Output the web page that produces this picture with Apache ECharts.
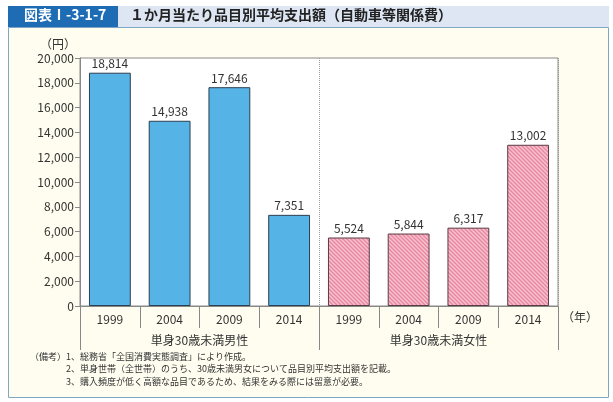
<!DOCTYPE html>
<html>
<head>
<meta charset="utf-8">
<script src="https://cdn.jsdelivr.net/npm/echarts@6/dist/echarts.min.js"></script>
<style>
html, body { margin: 0; padding: 0; background: #fff; }
#chart { width: 613px; height: 402px; }
</style>
</head>
<body>
<div id="chart"></div>
<script>
// 1か月当たり品目別平均支出額（自動車等関係費）
var years = ['1999', '2004', '2009', '2014', '1999', '2004', '2009', '2014'];
var groups = ['単身30歳未満男性', '単身30歳未満女性'];
var maleValues = [18814, 14938, 17646, 7351, null, null, null, null];
var femaleValues = [null, null, null, null, 5524, 5844, 6317, 13002];
var notes = [
	'1、総務省「全国消費実態調査」により作成。',
	'2、単身世帯（全世帯）のうち、30歳未満男女について品目別平均支出額を記載。',
	'3、購入頻度が低く高額な品目であるため、結果をみる際には留意が必要。'
];

var FONT = '"Noto Sans CJK JP", "Noto Sans", sans-serif';

function fmt(v) {
	return String(v).replace(/\B(?=(\d{3})+(?!\d))/g, ',');
}

// ピンクの斜線パターン
function hatch() {
	var c = document.createElement('canvas');
	c.width = 4;
	c.height = 4;
	var ctx = c.getContext('2d');
	ctx.fillStyle = '#f8c3d0';
	ctx.fillRect(0, 0, 4, 4);
	ctx.strokeStyle = '#e8859f';
	ctx.lineWidth = 1.4;
	ctx.beginPath();
	ctx.moveTo(-1, -1); ctx.lineTo(5, 5);
	ctx.moveTo(-1, 3); ctx.lineTo(1, 5);
	ctx.moveTo(3, -1); ctx.lineTo(5, 1);
	ctx.stroke();
	return c;
}

var labelOpt = {
	show: true,
	position: 'top',
	distance: 3,
	color: '#333',
	fontSize: 12,
	fontFamily: FONT,
	formatter: function(p) { return fmt(p.value); }
};

var graphics = [
	{ type: 'rect', shape: { x: 8.5, y: 27.5, width: 600, height: 370 }, style: { fill: '#fffdf0', stroke: '#7ea6c6', lineWidth: 1 }, z: -10 },
	{ type: 'rect', shape: { x: 8, y: 6, width: 601, height: 21 }, style: { fill: '#dde6f2' }, z: -10 },
	{ type: 'rect', shape: { x: 8, y: 6, width: 110, height: 21 }, style: { fill: '#1e6db4' }, z: -9 },
	{ type: 'text', left: 24, top: 8, style: { text: '図表Ⅰ-3-1-7', fill: '#fff', font: 'bold 14px ' + FONT } },
	{ type: 'text', left: 130, top: 8, style: { text: '１か月当たり品目別平均支出額（自動車等関係費）', fill: '#222', font: 'bold 14px ' + FONT } },
	{ type: 'text', left: 40, top: 38, style: { text: '（円）', fill: '#333', font: '12px ' + FONT } },
	{ type: 'text', left: 562, top: 311, style: { text: '（年）', fill: '#333', font: '12px ' + FONT } },
	{ type: 'text', left: 30, top: 352, style: { text: '（備考）', fill: '#333', font: '9px ' + FONT } }
];
for (var i = 0; i < notes.length; i++) {
	graphics.push({ type: 'text', left: 66, top: 352 + i * 12.5, style: { text: notes[i], fill: '#333', font: '9px ' + FONT } });
}

var myChart = echarts.init(document.getElementById('chart'));
var option = {
	animation: false,
	textStyle: { fontFamily: FONT },
	graphic: graphics,
	grid: {
		left: 80, right: 55, top: 58, bottom: 96,
		show: true, backgroundColor: '#fff', borderColor: '#888', borderWidth: 1
	},
	xAxis: [{
		type: 'category',
		data: years,
		axisLine: { lineStyle: { color: '#888' } },
		axisTick: { show: true, interval: 0, length: 22, lineStyle: { color: '#888' } },
		axisLabel: { color: '#333', fontSize: 12, margin: 7, interval: 0 }
	}, {
		type: 'category',
		position: 'bottom',
		data: groups,
		axisLine: { show: false },
		axisTick: { show: true, length: 44, lineStyle: { color: '#888' } },
		axisLabel: { color: '#333', fontSize: 12, margin: 28 },
		splitLine: { show: true, lineStyle: { color: '#999', type: 'dotted' } }
	}],
	yAxis: {
		type: 'value',
		min: 0,
		max: 20000,
		interval: 2000,
		axisLine: { show: true, lineStyle: { color: '#888' } },
		axisTick: { show: true, length: 5, lineStyle: { color: '#888' } },
		splitLine: { show: false },
		axisLabel: { color: '#333', fontSize: 12, margin: 6, formatter: function(v) { return fmt(v); } }
	},
	series: [{
		name: groups[0],
		type: 'bar',
		stack: 'all',
		barWidth: '70%',
		data: maleValues,
		itemStyle: { color: '#56b3e6', borderColor: '#2c3e50', borderWidth: 1 },
		label: labelOpt
	}, {
		name: groups[1],
		type: 'bar',
		stack: 'all',
		barWidth: '70%',
		data: femaleValues,
		itemStyle: { color: { image: hatch(), repeat: 'repeat' }, borderColor: '#5a3a44', borderWidth: 1 },
		label: labelOpt
	}]
};
myChart.setOption(option);
</script>
</body>
</html>
